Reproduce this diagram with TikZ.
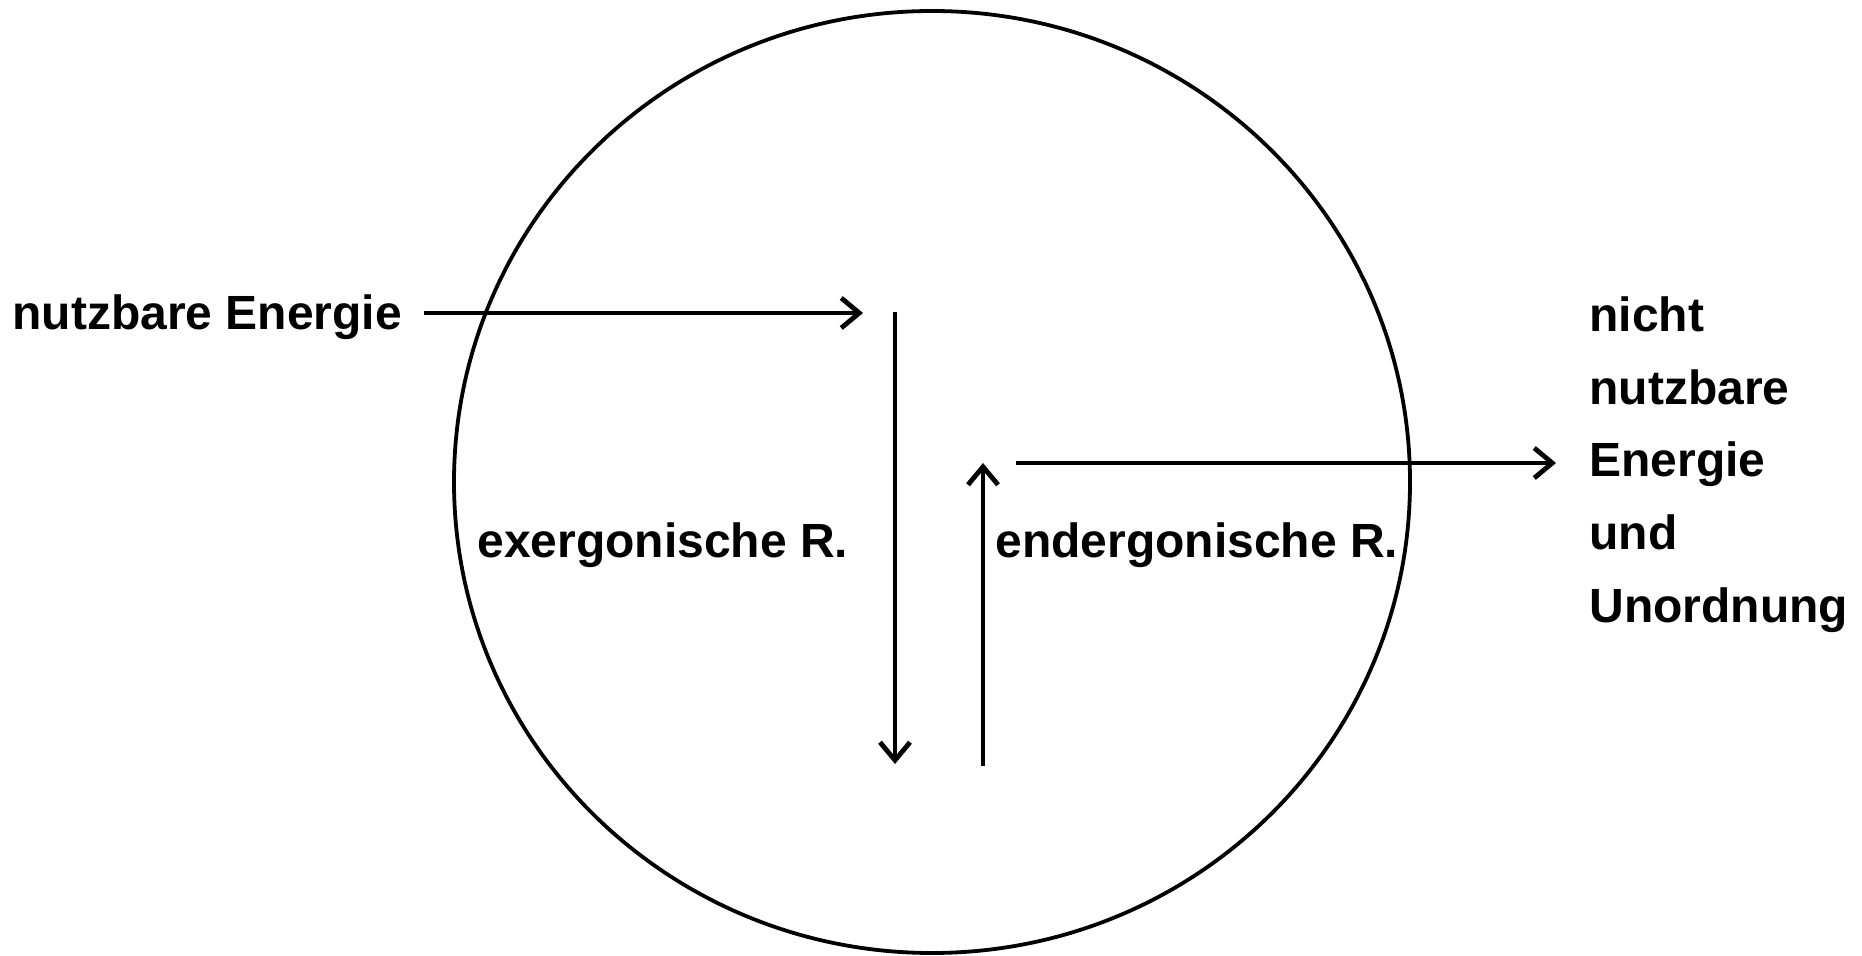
\documentclass[tikz,border=0pt]{standalone}
\usepackage{fontspec}
\setmainfont{Liberation Sans}
\usetikzlibrary{arrows.meta}

\begin{document}
\begin{tikzpicture}[x=0.5pt,y=-0.5pt,
  flow/.style={line width=2.4pt,-{Straight Barb[length=9pt,width=15pt,line width=2.4pt]}},
  lbl/.style={font=\fontsize{24}{36}\selectfont\bfseries,inner sep=0pt,anchor=base west}]
  \useasboundingbox (0,0) rectangle (1862,956);
  % cell
  \draw[line width=1.9pt] (932,482) ellipse [x radius=478, y radius=471];
  % energy in
  \node[lbl] (useIn) at (12,330) {nutzbare Energie};
  \coordinate (inStart) at (424,313);
  \coordinate (inEnd) at (863,313);
  \draw[flow] (inStart) -- (inEnd);
  % the two reactions
  \coordinate (exTop) at (895,312);
  \coordinate (exBot) at (895,764);
  \draw[flow] (exTop) -- (exBot);
  \coordinate (enBot) at (983,766);
  \coordinate (enTop) at (983,463);
  \draw[flow] (enBot) -- (enTop);
  \node[lbl] (exer) at (477,558) {exergonische R.};
  \node[lbl] (ender) at (995,558) {endergonische R.};
  % energy out
  \coordinate (outStart) at (1016,463);
  \coordinate (outEnd) at (1556,463);
  \draw[flow] (outStart) -- (outEnd);
  \foreach \w [count=\i] in {nicht,nutzbare,Energie,und,Unordnung}
    \node[lbl] (lost\i) at (1589,{332+72.5*(\i-1)}) {\w};
\end{tikzpicture}
\end{document}
